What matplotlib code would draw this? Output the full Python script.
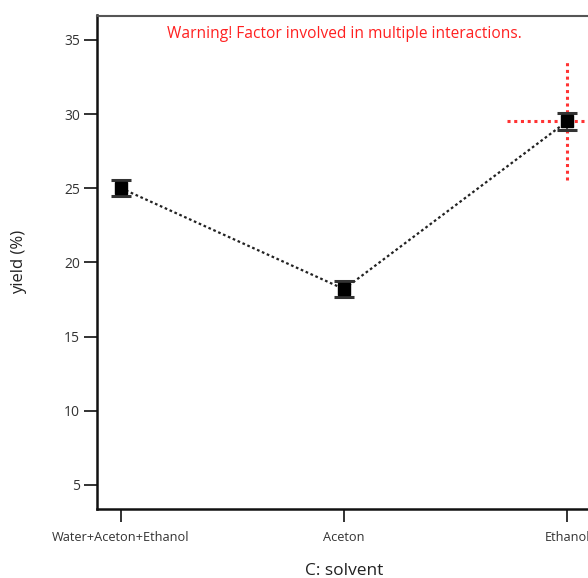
import matplotlib
matplotlib.use("Agg")
import matplotlib.pyplot as plt

categories = ["Water+Aceton+Ethanol", "Aceton", "Ethanol"]
yield_mean = [25.0, 18.2, 29.5]
lsd_half = [0.55, 0.55, 0.55]
yticks = [5, 10, 15, 20, 25, 30, 35]
cross_y = [25.55, 33.65]
cross_x_half = 0.27

plt.rcParams['font.family'] = ['Open Sans', 'DejaVu Sans']

fig = plt.figure(figsize=(5.88, 5.78), dpi=100)
W, H = 588, 578
left, right, top, bottom = 97, 591, 15.5, 509
ax = fig.add_axes([left / W, 1 - bottom / H, (right - left) / W, (bottom - top) / H])

x = list(range(len(categories)))
ax.plot(x, yield_mean, linestyle=(0, (1.2, 1.2)), color='#222222', lw=1.6, zorder=2)
ax.errorbar(x, yield_mean, yerr=lsd_half, fmt='none', ecolor='#333333',
            elinewidth=1.2, capsize=7, capthick=2.2, zorder=3)
ax.plot(x, yield_mean, 's', color='black', markersize=8.5, zorder=4)

# red crosshair on the current factor level
xi = 2
ax.plot([xi, xi], cross_y, color='#ff3333', lw=2.2, linestyle=(0, (1, 1.2)), zorder=1)
ax.plot([xi - cross_x_half, xi + cross_x_half], [yield_mean[xi]] * 2,
        color='#ff3333', lw=2.2, linestyle=(0, (1, 1.2)), zorder=1)

ax.set_xlim(-0.1076, 2.1076)
ax.set_ylim(3.38, 36.64)
ax.set_xticks(x)
ax.set_xticklabels(categories, fontsize=9.2, color='#333333')
ax.set_yticks(yticks)
ax.set_yticklabels([str(t) for t in yticks], fontsize=10, color='#333333')
ax.tick_params(axis='both', direction='out', length=9.4, width=1.3, color='#222222')
ax.tick_params(axis='y', pad=3)
ax.tick_params(axis='x', pad=6.5)

for s in ['left', 'bottom']:
    ax.spines[s].set_linewidth(1.8)
    ax.spines[s].set_color('#111111')
ax.spines['top'].set_linewidth(1.5)
ax.spines['top'].set_color('#555555')
ax.spines['right'].set_linewidth(1.5)
ax.spines['right'].set_color('#555555')

ax.set_xlabel("C: solvent", fontsize=12.5, color='#222222')
ax.set_ylabel("yield (%)", fontsize=12, color='#222222')
ax.xaxis.set_label_coords(0.5, -0.11)
ax.yaxis.set_label_coords(-0.142, 0.5)

ax.text(0.5, 0.9615, "Warning! Factor involved in multiple interactions.",
        transform=ax.transAxes, ha='center', va='center', color='#ff2020', fontsize=11.2)

fig.savefig("out.png", dpi=100)
